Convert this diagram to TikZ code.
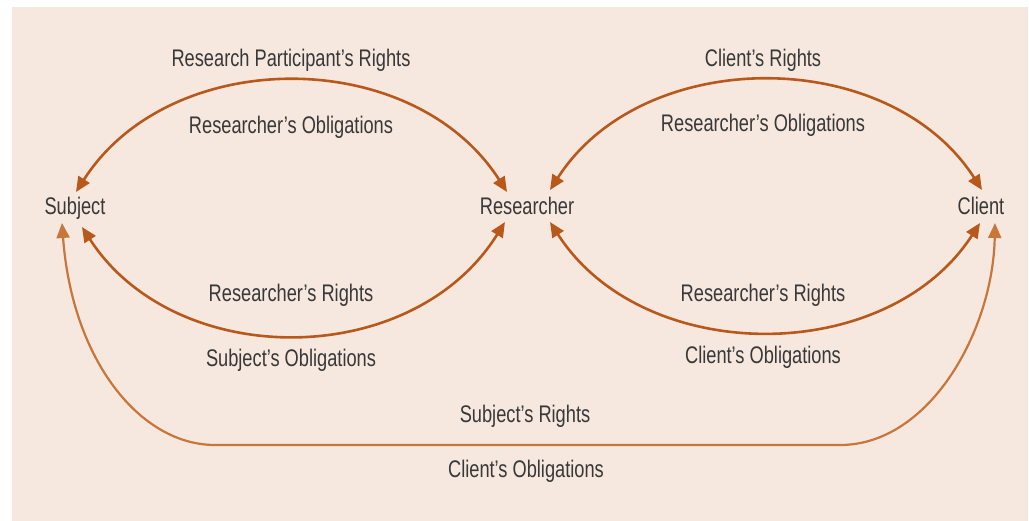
\documentclass[tikz,border=0pt]{standalone}
\usepackage{fontspec}
\setmainfont{Liberation Sans}[FakeStretch=0.76]
\usetikzlibrary{arrows.meta}
\definecolor{paperTone}{HTML}{F6E8DF}
\definecolor{arcDark}{HTML}{B9581B}
\definecolor{arcLight}{HTML}{C8763A}
\definecolor{inkGray}{HTML}{383838}
\begin{document}
\begin{tikzpicture}
[x=1pt,y=-1pt,%
  textDecorate/.style={anchor=base,inner sep=0pt,text=inkGray,font=\fontsize{24}{28}\selectfont},%
  arcDecorate/.style={<->,>={Triangle[length=15pt,width=13pt]},line width=2.6pt,draw=arcDark},%
  loopDecorate/.style={<->,>={Triangle[length=15pt,width=13pt]},line width=2.2pt,draw=arcLight}]
\useasboundingbox (0,0) rectangle (1029,521);
\fill[paperTone] (12,7) rectangle (1028,521);
%% parties
\foreach \nodename/\x/\caption in {
  subject/75/Subject, researcher/527/Researcher, client/981/Client}
{
  \node (\nodename) at (\x,215) [textDecorate] {\caption};
}
%% rights and obligations
\foreach \nodename/\x/\y/\caption in {
  partRights/291/67/Research Participant’s Rights, resObligL/291/134/Researcher’s Obligations,
  resRightsL/291/302/Researcher’s Rights, subObligL/291/367/Subject’s Obligations,
  cliRights/763/67/Client’s Rights, resObligR/763/132/Researcher’s Obligations,
  resRightsR/763/302/Researcher’s Rights, cliObligR/763/364/Client’s Obligations,
  subRights/525/423/Subject’s Rights, cliObligB/526/478/Client’s Obligations}
{
  \node (\nodename) at (\x,\y) [textDecorate] {\caption};
}
%% exchanges
\draw[arcDecorate] ([xshift=1pt,yshift=23pt]subject.base)
  .. controls +(94,-147) and +(-94,-147) .. ([xshift=-20pt,yshift=23pt]researcher.base);
\draw[arcDecorate] ([xshift=7pt,yshift=-12pt]subject.base)
  .. controls +(93,144) and +(-93,149) .. ([xshift=-22pt,yshift=-7pt]researcher.base);
\draw[arcDecorate] ([xshift=23pt,yshift=25pt]researcher.base)
  .. controls +(93,-145) and +(-93,-145) .. ([xshift=1pt,yshift=25pt]client.base);
\draw[arcDecorate] ([xshift=23pt,yshift=-7pt]researcher.base)
  .. controls +(93,145) and +(-93,144) .. ([xshift=-1pt,yshift=-8pt]client.base);
\draw[loopDecorate] ([xshift=-13pt,yshift=-8pt]subject.base)
  .. controls (72,360) and (140,445) .. (215,445) -- (840,445)
  .. controls (930,445) and (993,330) .. ([xshift=14pt,yshift=-8pt]client.base);
\end{tikzpicture}
\end{document}
